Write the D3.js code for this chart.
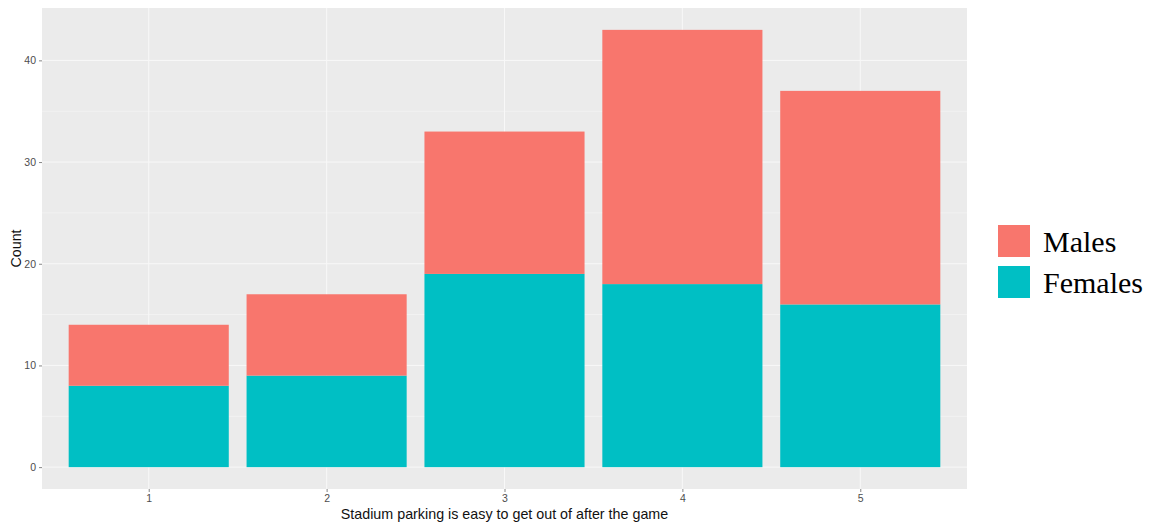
<!DOCTYPE html>
<html><head><meta charset="utf-8">
<script src="https://cdn.jsdelivr.net/npm/d3@7"></script>
<style>body{margin:0;background:#fff}svg{display:block}</style>
</head><body>
<script>
const categories = ["1","2","3","4","5"];
const females = [8, 9, 19, 18, 16];
const males = [6, 8, 14, 25, 21];
const yTicks = [0, 10, 20, 30, 40];
const seriesNames = ["Males", "Females"];
const colors = {Males: "#F8766D", Females: "#00BFC4"};

const W = 1149, H = 525;
const P = {left: 42, right: 967, top: 8, bottom: 489};
const svg = d3.select("body").append("svg").attr("width", W).attr("height", H);

const totals = females.map((f, i) => f + males[i]);
const maxT = d3.max(totals);
const x = d3.scaleLinear().domain([0.4, categories.length + 0.6]).range([P.left, P.right]);
const y = d3.scaleLinear().domain([-maxT * 0.05, maxT * 1.05]).range([P.bottom, P.top]);

svg.append("rect").attr("x", P.left).attr("y", P.top).attr("width", P.right - P.left).attr("height", P.bottom - P.top).attr("fill", "#EBEBEB");

// minor grid
const minorY = yTicks.slice(0, -1).map(v => v + 5);
svg.selectAll(".gmy").data(minorY).join("line").attr("x1", P.left).attr("x2", P.right)
  .attr("y1", d => y(d)).attr("y2", d => y(d)).attr("stroke", "#F4F4F4").attr("stroke-width", 0.8);
svg.selectAll(".gy").data(yTicks).join("line").attr("x1", P.left).attr("x2", P.right)
  .attr("y1", d => y(d)).attr("y2", d => y(d)).attr("stroke", "#F8F8F8").attr("stroke-width", 1);
svg.selectAll(".gx").data(categories).join("line").attr("y1", P.top).attr("y2", P.bottom)
  .attr("x1", (d, i) => x(i + 1)).attr("x2", (d, i) => x(i + 1)).attr("stroke", "#F8F8F8").attr("stroke-width", 1);

const bw = (x(2) - x(1)) * 0.9;
const g = svg.append("g");
categories.forEach((c, i) => {
  g.append("rect").attr("x", x(i + 1) - bw / 2).attr("width", bw)
    .attr("y", y(females[i])).attr("height", y(0) - y(females[i])).attr("fill", colors.Females);
  g.append("rect").attr("x", x(i + 1) - bw / 2).attr("width", bw)
    .attr("y", y(totals[i])).attr("height", y(females[i]) - y(totals[i])).attr("fill", colors.Males);
});

// axes
const yAxis = svg.append("g").attr("transform", `translate(${P.left},0)`)
  .call(d3.axisLeft(y).tickValues(yTicks).tickSize(3).tickPadding(3));
const xAxis = svg.append("g").attr("transform", `translate(0,${P.bottom})`)
  .call(d3.axisBottom(x).tickValues(categories.map((c, i) => i + 1)).tickFormat((d, i) => categories[i]).tickSize(3).tickPadding(3));
[yAxis, xAxis].forEach(a => {
  a.select(".domain").remove();
  a.selectAll(".tick line").attr("stroke", "#666").attr("stroke-width", 0.8);
  a.selectAll(".tick text").attr("fill", "#4D4D4D").style("font-family", "Liberation Sans, Arial, sans-serif").style("font-size", "10.5px");
});

svg.append("text").attr("x", (P.left + P.right) / 2).attr("y", 519).attr("text-anchor", "middle")
  .style("font-family", "Liberation Sans, Arial, sans-serif").style("font-size", "14.3px").attr("fill", "#111")
  .text("Stadium parking is easy to get out of after the game");
svg.append("text").attr("transform", `translate(21,${(P.top + P.bottom) / 2}) rotate(-90)`).attr("text-anchor", "middle")
  .style("font-family", "Liberation Sans, Arial, sans-serif").style("font-size", "14.3px").attr("fill", "#111")
  .text("Count");

// legend
const lg = svg.append("g").attr("transform", "translate(998,225)");
seriesNames.forEach((s, i) => {
  lg.append("rect").attr("x", 0).attr("y", i * 41).attr("width", 32).attr("height", 32).attr("fill", colors[s]);
  lg.append("text").attr("x", 45).attr("y", i * 41 + 27).style("font-family", "Liberation Serif, Times New Roman, serif")
    .style("font-size", "30px").attr("fill", "#000").text(s);
});
</script>
</body></html>
